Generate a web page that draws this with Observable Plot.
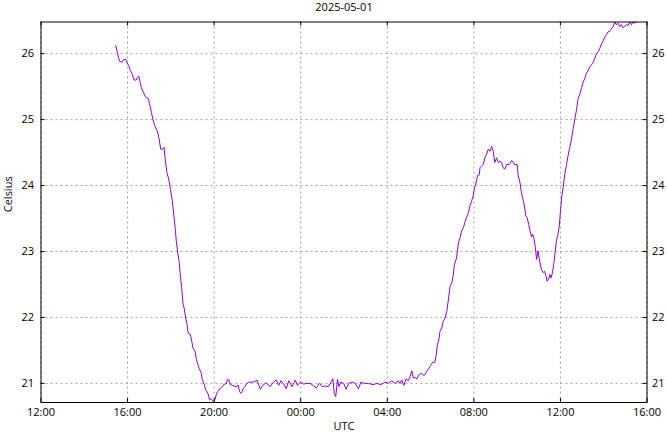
<!DOCTYPE html>
<html><head><meta charset="utf-8">
<script src="https://cdn.jsdelivr.net/npm/d3@7"></script>
<script src="https://cdn.jsdelivr.net/npm/@observablehq/plot@0.6"></script>
<style>html,body{margin:0;padding:0;background:#fff}svg{display:block}</style>
</head><body><div id="chart"></div>
<script>
const title = "2025-05-01";
const xLabel = "UTC";
const yLabel = "Celsius";

// 2025-05-01 (UTC)
const day1Times = ["15:27","15:32","15:35","15:39","15:45","15:49","15:56","15:58","16:03","16:08","16:13","16:18","16:24","16:27","16:31","16:35","16:38","16:44","16:49","16:57","17:01","17:06","17:10","17:15","17:22","17:26","17:32","17:37","17:41","17:45","17:49","17:54","17:59","18:04","18:08","18:12","18:15","18:19","18:23","18:26","18:30","18:34","18:37","18:41","18:45","18:48","18:54","18:58","19:01","19:07","19:11","19:14","19:18","19:24","19:27","19:33","19:36","19:40","19:44","19:47","19:51","19:55","19:58","20:02","20:06","20:10","20:13","20:17","20:23","20:26","20:34","20:37","20:41","20:45","20:50","21:01","21:07","21:10","21:14","21:18","21:21","21:25","21:31","21:36","21:40","21:49","21:59","22:08","22:15","22:24","22:35","22:45","22:52","22:59","23:05","23:12","23:20","23:27","23:36","23:45","23:51","23:59"];
const day1Celsius = [26.12,26.02,25.93,25.88,25.87,25.91,25.91,25.87,25.82,25.74,25.69,25.60,25.60,25.64,25.66,25.56,25.49,25.41,25.35,25.32,25.24,25.11,25.01,24.91,24.83,24.75,24.55,24.55,24.58,24.37,24.20,24.10,23.94,23.77,23.56,23.36,23.16,22.98,22.85,22.65,22.45,22.20,22.14,21.99,21.89,21.76,21.74,21.64,21.54,21.49,21.36,21.31,21.23,21.16,21.06,20.98,20.90,20.88,20.83,20.75,20.77,20.74,20.72,20.75,20.83,20.88,20.90,20.93,20.95,20.98,21.00,21.06,21.05,20.98,20.97,20.95,20.97,20.88,20.85,20.88,20.93,20.95,21.00,21.02,21.02,21.02,21.05,20.91,20.97,21.01,20.95,21.02,21.05,20.97,21.04,21.00,20.92,21.04,20.95,21.05,20.97,21.02];

// 2025-05-02 (UTC)
const day2Times = ["00:08","00:17","00:26","00:34","00:43","00:52","01:00","01:08","01:17","01:24","01:29","01:33","01:37","01:42","01:46","01:51","01:59","02:06","02:13","02:23","02:31","02:40","02:47","02:56","03:08","03:20","03:31","03:42","03:54","04:03","04:12","04:22","04:31","04:35","04:40","04:46","04:52","04:58","05:03","05:08","05:12","05:17","05:22","05:29","05:35","05:42","05:47","05:54","06:00","06:06","06:12","06:15","06:19","06:23","06:26","06:31","06:35","06:40","06:45","06:49","06:54","06:59","07:03","07:06","07:12","07:17","07:22","07:26","07:31","07:35","07:40","07:45","07:49","07:54","07:58","08:02","08:06","08:10","08:15","08:17","08:22","08:26","08:31","08:35","08:40","08:45","08:49","08:54","08:56","08:58","09:03","09:08","09:12","09:17","09:21","09:26","09:31","09:38","09:45","09:49","09:54","10:00","10:03","10:08","10:12","10:17","10:21","10:24","10:28","10:32","10:35","10:40","10:43","10:46","10:50","10:54","10:58","11:01","11:05","11:09","11:12","11:16","11:20","11:23","11:27","11:31","11:34","11:38","11:42","11:45","11:49","11:53","11:57","12:00","12:04","12:08","12:12","12:17","12:21","12:26","12:31","12:35","12:40","12:45","12:49","12:54","12:59","13:03","13:08","13:12","13:17","13:22","13:26","13:31","13:35","13:40","13:45","13:49","13:54","13:58","14:03","14:08","14:12","14:17","14:22","14:26","14:31","14:35","14:40","14:45","14:49","14:54","14:58","15:03","15:08","15:12","15:17","15:21","15:26","15:29"];
const day2Celsius = [20.99,21.00,21.00,20.97,20.93,21.00,20.95,20.96,20.95,21.02,21.07,20.85,20.80,21.06,20.95,21.02,21.00,20.91,21.00,21.02,21.00,20.92,21.02,21.00,21.00,20.98,21.00,20.98,21.02,21.00,21.04,21.00,21.04,21.00,21.05,20.97,21.07,21.04,21.10,21.19,21.08,21.09,21.07,21.14,21.15,21.12,21.16,21.22,21.27,21.32,21.32,21.41,21.59,21.66,21.79,21.84,21.94,21.99,22.09,22.25,22.47,22.52,22.65,22.80,22.90,23.13,23.21,23.31,23.36,23.44,23.52,23.59,23.69,23.77,23.84,23.97,24.04,24.15,24.16,24.27,24.30,24.32,24.43,24.47,24.55,24.52,24.59,24.52,24.42,24.35,24.42,24.35,24.37,24.35,24.27,24.25,24.32,24.32,24.38,24.35,24.31,24.32,24.15,24.04,23.89,23.77,23.66,23.54,23.51,23.41,23.33,23.22,23.26,23.21,23.08,22.88,23.01,22.90,22.78,22.71,22.68,22.70,22.63,22.55,22.58,22.65,22.60,22.68,22.83,22.98,23.16,23.26,23.39,23.61,23.84,23.99,24.17,24.32,24.45,24.58,24.71,24.86,25.01,25.16,25.32,25.39,25.49,25.57,25.63,25.70,25.75,25.80,25.83,25.87,25.92,26.00,26.03,26.08,26.15,26.19,26.25,26.29,26.33,26.34,26.38,26.41,26.48,26.44,26.46,26.41,26.44,26.39,26.41,26.44,26.43,26.48,26.44,26.48,26.46,26.48];

const xTickLabels = ["2025-05-01T12:00Z","2025-05-01T16:00Z","2025-05-01T20:00Z","2025-05-02T00:00Z","2025-05-02T04:00Z","2025-05-02T08:00Z","2025-05-02T12:00Z","2025-05-02T16:00Z"];
const yTicks = [21, 22, 23, 24, 25, 26];
const yDomain = [20.71, 26.48];

const data = [
  ...day1Times.map((t, i) => ({t: new Date(`2025-05-01T${t}Z`), c: day1Celsius[i]})),
  ...day2Times.map((t, i) => ({t: new Date(`2025-05-02T${t}Z`), c: day2Celsius[i]}))
];
const xTicks = xTickLabels.map(s => new Date(s));
const fmt = d3.utcFormat("%H:%M");
const yFmt = d3.format("d");

const W = 667, H = 432;
const mT = 21.5, mB = 30, mL = 40.5, mR = 20.5;
const innerH = H - mT - mB, innerW = W - mL - mR;
const gridStyle = {stroke: "#a0a0a0", strokeOpacity: 1, strokeWidth: 1, strokeDasharray: "2,3"};
const font = "'Open Sans', sans-serif";

const chart = Plot.plot({
  width: W, height: H,
  marginTop: mT, marginBottom: mB, marginLeft: mL, marginRight: mR,
  style: {fontFamily: font, fontSize: "11px", color: "#000", background: "#fff"},
  x: {type: "utc", domain: [xTicks[0], xTicks[xTicks.length - 1]]},
  y: {domain: yDomain},
  marks: [
    Plot.gridX(xTicks, gridStyle),
    Plot.gridY(yTicks, gridStyle),
    Plot.line(data, {x: "t", y: "c", stroke: "#9400d3", strokeWidth: 1}),
    Plot.frame({stroke: "#000", strokeWidth: 1}),
    Plot.tickX(xTicks, {x: d => d, stroke: "#000", insetTop: innerH - 4}),
    Plot.tickX(xTicks, {x: d => d, stroke: "#000", insetBottom: innerH - 4}),
    Plot.tickY(yTicks, {y: d => d, stroke: "#000", insetRight: innerW - 4}),
    Plot.tickY(yTicks, {y: d => d, stroke: "#000", insetLeft: innerW - 4}),
    Plot.axisX(xTicks, {anchor: "bottom", tickSize: 0, tickPadding: 6, tickFormat: fmt, label: null}),
    Plot.axisY(yTicks, {anchor: "left", tickSize: 0, tickPadding: 7, tickFormat: yFmt, label: null}),
    Plot.axisY(yTicks, {anchor: "right", tickSize: 0, tickPadding: 5, tickFormat: yFmt, label: null}),
    Plot.text([title], {frameAnchor: "top", dy: -15, lineAnchor: "middle", fill: "#000"}),
    Plot.text([xLabel], {frameAnchor: "bottom", dy: 23.5, lineAnchor: "middle", fill: "#000"}),
    Plot.text([yLabel], {frameAnchor: "left", dx: -33, rotate: -90, lineAnchor: "middle", fill: "#000"})
  ]
});
document.getElementById("chart").appendChild(chart);
</script>
</body></html>
